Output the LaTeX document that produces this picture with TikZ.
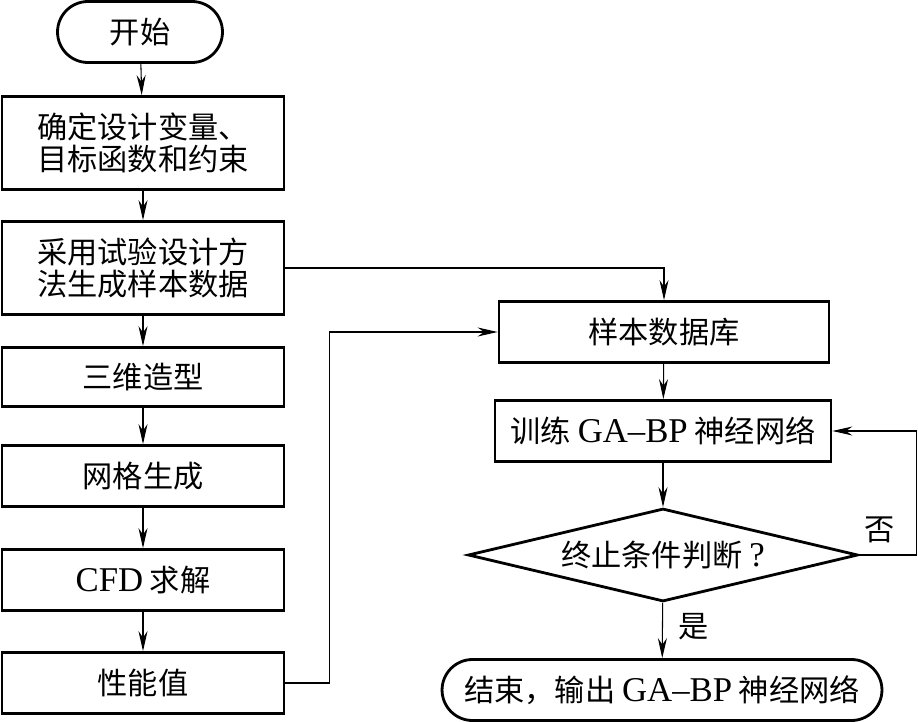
\documentclass[tikz,border=0pt]{standalone}
\usepackage{fontspec}
\newfontfamily\cjk{Noto Sans CJK SC}
\newfontfamily\lat[Scale=1.15]{Liberation Serif}
\usetikzlibrary{arrows.meta}
\usetikzlibrary{shapes.geometric}

\begin{document}
\begin{tikzpicture}[x=0.02cm,y=-0.02cm,
        font=\cjk\fontsize{17.2}{18.7}\selectfont,
        box/.style={draw,line width=1.6pt,minimum width=5.64cm,minimum height=1.22cm,inner sep=0,align=center},
        tallbox/.style={box,minimum height=1.86cm},
        term/.style={draw,line width=1.6pt,rounded corners=0.61cm,minimum height=1.22cm,inner sep=0},
        decision/.style={diamond,draw,line width=1.6pt,shape aspect=4.2,inner sep=0,minimum width=7.8cm,minimum height=1.86cm},
        line/.style={-{Stealth[length=4mm,width=1.8mm,inset=1.3mm]},line width=0.6pt}]
        \useasboundingbox (0,0) rectangle (918,722);
        % left column
        \node[term,minimum width=3.3cm] (start) at (140,32) {开始};
        \node[tallbox] (define) at (143,143) {确定设计变量、\\目标函数和约束};
        \node[tallbox] (sample) at (143,268) {采用试验设计方\\法生成样本数据};
        \node[box,minimum height=1.18cm] (model) at (143,377) {三维造型};
        \node[box] (mesh) at (143,476) {网格生成};
        \node[box] (cfd) at (143,580) {{\lat CFD} 求解};
        \node[box] (perf) at (143,683) {性能值};
        % right column
        \node[box,minimum width=6.6cm] (db) at (664,332) {样本数据库};
        \node[box,minimum width=6.72cm] (train) at (663,431) {训练 {\lat GA–BP} 神经网络};
        \node[decision] (judge) at (663,555) {终止条件判断 {\lat ?}};
        \node[term,minimum width=8.8cm] (stop) at (662,690) {结束，输出 {\lat GA–BP} 神经网络};
        \node (no) at (880,530) {否};
        \node (yes) at (694,627) {是};
        % connectors
        \draw[line] (start) -- (define);
        \draw[line] (define) -- (sample);
        \draw[line] (sample) -- (model);
        \draw[line] (model) -- (mesh);
        \draw[line] (mesh) -- (cfd);
        \draw[line] (cfd) -- (perf);
        \draw[line] (sample.east) -| (db.north);
        \draw[line] (perf.east) -- +(44,0) |- (db.west);
        \draw[line] (db) -- (train);
        \draw[line] (train) -- (judge);
        \draw[line] (judge) -- (stop);
        \draw[line] (judge.east) -- +(57,0) |- (train.east);
    \end{tikzpicture}
\end{document}
